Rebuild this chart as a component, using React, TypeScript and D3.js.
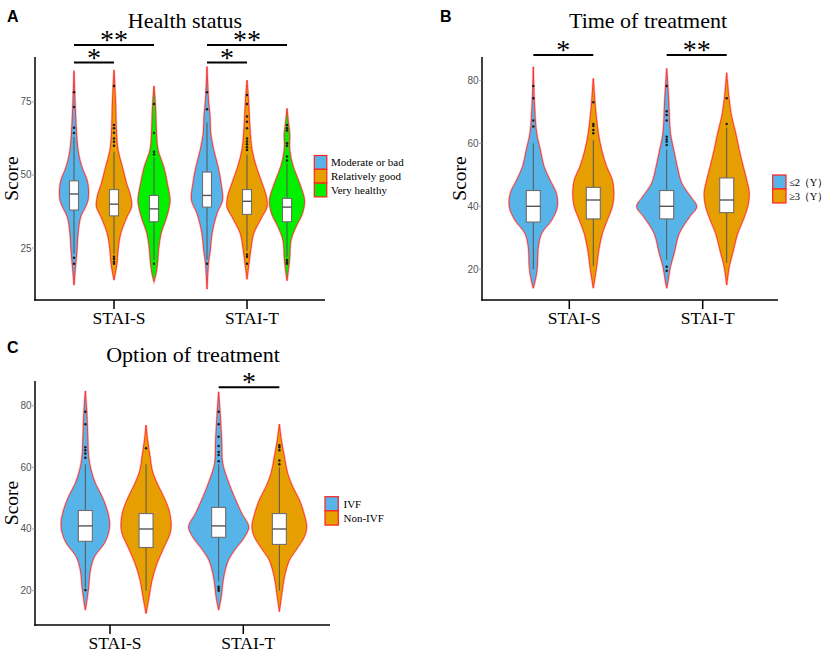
import React from "react";
import * as d3 from "d3";

type Pt = [number, number];

// ---------- DATA ----------
const categories = ["STAI-S", "STAI-T"];

// Panel A – Health status
const healthGroups = ["Moderate or bad", "Relatively good", "Very healthy"];
const healthS_mod: Pt[] = [[85.7,0],[75.7,1],[64.4,2.5],[58.6,4],[55,6],[51.7,9],[48.3,13],[44.9,14.5],[41.4,14],[39.1,11.5],[35.7,6.7],[30,4],[24.3,3],[18.6,1.5],[12.3,0]];
const healthS_good: Pt[] = [[86,0],[75.7,1.5],[64.3,2.5],[58.6,4],[52.8,8.3],[47.2,12.5],[42.6,16.7],[39.1,17.5],[35.7,13],[30,6.7],[24.3,4],[19.8,3],[14,0]];
const healthS_very: Pt[] = [[80.5,0],[73.4,1.5],[64.3,2.5],[58.6,4],[52.8,9.7],[47.2,13.3],[41.4,16],[38,14.5],[34.6,11.7],[30,7],[24.3,4.5],[19.8,3.5],[16.3,2],[13.5,0]];
const healthT_mod: Pt[] = [[87.1,0],[75.7,1.5],[70,3],[64.3,3.7],[58.6,6.7],[52.8,11],[47.2,14],[41.4,15.5],[36.9,10],[30,5],[24.3,3.3],[19.8,1.5],[10.9,0]];
const healthT_good: Pt[] = [[82.5,0],[75.7,1.5],[64.3,3.3],[58.6,5],[52.8,9.3],[47.2,15],[42.6,19.3],[39.1,20],[35.7,15],[30,6.7],[24.3,3.7],[19.8,2],[14.3,0]];
const healthT_very: Pt[] = [[72.8,0],[67.7,1.5],[64.3,2.7],[58.6,2.7],[52.8,6.3],[47.2,12.5],[41.4,17.5],[36.9,15.5],[32.3,9],[27.7,4],[20.9,2.5],[13.8,0]];
// [whiskerLow, q1, median, q3, whiskerHigh]
const healthBoxS = [[23,38,43.5,48,63],[23,36,40,45,58],[21,34,38.4,43,56]];
const healthBoxT = [[21,39,43,51,68],[24,36.5,41,45,57],[22,34,39,42,54]];
const healthOutS = [[78.3,73.3,66.2,64.4,21.7,19.6],[80.5,67.1,66,64.5,62.5,61.4,60,22,21.2,20.3,19.6],[74.3,64.4,58,57,19.6]];
const healthOutT = [[78.3,72.5,19.6],[77.4,74.3,70,68.2,66,62.5,61.5,60.5,59.5,58.6,22.8,22,19.6],[67.1,66,65.2,60.9,60,56.3,55,20.9,20.1,19.6]];
const healthSig = [{ cat: 0, from: 0, to: 1, label: "*", y: 88.5 },{ cat: 0, from: 0, to: 2, label: "**", y: 94.5 },{ cat: 1, from: 0, to: 1, label: "*", y: 88.5 },{ cat: 1, from: 0, to: 2, label: "**", y: 94.5 }];
const healthTicks = [25, 50, 75];

// Panel B – Time of treatment
const timeGroups = ["≤2（Y）", "≥3（Y）"];
const timeS_le2: Pt[] = [[84.3,0],[73.7,1],[63.2,3.3],[57.9,7],[52.6,10.7],[48.3,16.7],[44.1,23],[39.9,24],[35.7,18.5],[31.4,8.3],[27.2,5],[20.8,4],[17.7,2.7],[14,0]];
const timeS_ge3: Pt[] = [[80.6,0],[73.7,1.5],[68.4,3],[63.2,5],[57.9,8.3],[52.6,13.3],[48.3,19],[44.1,20.5],[39.9,19],[35.7,14],[31.4,9],[25.2,5],[20.8,3.3],[14,0]];
const timeT_le2: Pt[] = [[83.8,0],[73.7,2],[63.2,3.7],[57.9,7],[52.6,10.5],[47.3,15],[43,24],[39.9,30],[36.7,23],[31.4,12.5],[25.2,7.5],[20.8,3.7],[15.6,1],[14,0]];
const timeT_ge3: Pt[] = [[82.4,0],[73.7,2.5],[68.4,5],[63.2,9],[57.9,12.5],[52.6,16.5],[48.3,20],[44.1,22.5],[39.9,21],[35.7,16.5],[31.4,11],[25.2,6],[20.8,2.5],[15,0]];
const timeBoxS = [[20,35,40,45,60],[21,36,42,46,61]];
const timeBoxT = [[23,36,40,45,58],[22,38,42,49,65]];
const timeOutS = [[78.2,74.3,67.2,65.3],[73,66.1,65.5,64.2,63.2]];
const timeOutT = [[78.2,70.2,69,67.2,62.1,61.2,60.5,59.5,20.8,19.5],[74.3,66.1]];
const timeSig = [{ cat: 0, from: 0, to: 1, label: "*", y: 88 },{ cat: 1, from: 0, to: 1, label: "**", y: 88 }];
const timeTicks = [20, 40, 60, 80];

// Panel C – Option of treatment
const optionGroups = ["IVF", "Non-IVF"];
const optionS_ivf: Pt[] = [[84.8,0],[77.5,1.5],[68.9,2.5],[63.4,3.3],[59.1,5.7],[54.8,10],[50.5,16.7],[46.2,21.7],[41.8,24.3],[38.6,23],[35.4,19],[31,9],[26.7,5],[21.3,3.3],[18,2],[13.7,0]];
const optionS_non: Pt[] = [[73.7,0],[68.9,1.5],[63.4,4],[59.1,6],[54.8,11],[50.5,17.5],[46.2,22.8],[41.8,25],[38.6,24],[34.2,18],[28.9,11],[23.5,6],[18,3],[12.6,0]];
const optionT_ivf: Pt[] = [[84.5,0],[77.5,1.5],[68.9,3],[61.3,4],[55.9,9],[50.5,15.5],[45.1,23],[40.7,30],[37.5,26],[33.2,16],[29.9,9.7],[24.4,5],[18,2.5],[13.7,0]];
const optionT_non: Pt[] = [[74,0],[68.9,2],[63.4,5],[58,8.3],[53.7,13.3],[49.4,20],[45.1,24.5],[40.7,27.3],[37.5,25],[33.2,16.7],[29.9,10],[24.4,5],[19.1,2.5],[13.2,0]];
const optionBoxS = [[21,36,41,46,61],[20,34,40,45,61]];
const optionBoxT = [[23,37.3,41,47,61],[20,35,40,45,60]];
const optionOutS = [[78,74,66.5,65.5,64.5,63.1,20.2],[66.2]];
const optionOutT = [[78,74,69.9,66.9,65,64,62,21.3,20.6,20],[67.2,66.5,65.5,62.2,61]];
const optionSig = [{ cat: 1, from: 0, to: 1, label: "*", y: 86 }];
const optionTicks = [20, 40, 60, 80];

// ---------- STYLE ----------
const SERIF = "'Liberation Serif', 'Times New Roman', serif";
const SANS = "'Liberation Sans', Arial, sans-serif";
const BLUE = "#56B4E9";
const ORANGE = "#E69F00";
const GREEN = "#00F000";
const OUTLINE = "#FF2020";

interface PanelCfg {
  letter: string; title: string; titleX: number; titleY: number;
  letterX: number; letterY: number;
  left: number; right: number; top: number; bottom: number;
  yDomain: [number, number]; tick0: number; tick1: number;
  dodge: number; shift: number; boxW: number;
  scoreX: number;
  groups: string[]; colors: string[];
  dens: Pt[][][]; boxes: number[][][]; outs: number[][][];
  sig: { cat: number; from: number; to: number; label: string; y: number }[];
  yTicks: number[];
  legX: number; legY: number; legW: number; legH: number; legTextX: number; legFont: number; legSpacing: number;
}

const panels: PanelCfg[] = [
  {
    letter: "A", title: "Health status", titleX: 185, titleY: 27.5, letterX: 7, letterY: 22,
    left: 35, right: 325, top: 57, bottom: 300, yDomain: [7.2, 90.4], tick0: 114, tick1: 247,
    dodge: 40, shift: 0, boxW: 9, scoreX: 18,
    groups: healthGroups, colors: [BLUE, ORANGE, GREEN],
    dens: [[healthS_mod, healthS_good, healthS_very], [healthT_mod, healthT_good, healthT_very]],
    boxes: [healthBoxS, healthBoxT], outs: [healthOutS, healthOutT], sig: healthSig, yTicks: healthTicks,
    legX: 314.3, legY: 155.5, legW: 12.5, legH: 13.8, legTextX: 331, legFont: 11, legSpacing: 0,
  },
  {
    letter: "B", title: "Time of treatment", titleX: 648, titleY: 27.5, letterX: 440, letterY: 21.5,
    left: 482, right: 778, top: 57, bottom: 300, yDomain: [10.25, 87.4], tick0: 569.3, tick1: 702.7,
    dodge: 60, shift: -6, boxW: 14, scoreX: 466,
    groups: timeGroups, colors: [BLUE, ORANGE],
    dens: [[timeS_le2, timeS_ge3], [timeT_le2, timeT_ge3]],
    boxes: [timeBoxS, timeBoxT], outs: [timeOutS, timeOutT], sig: timeSig, yTicks: timeTicks,
    legX: 772.7, legY: 175, legW: 13.3, legH: 14, legTextX: 789.5, legFont: 10.5, legSpacing: -0.6,
  },
  {
    letter: "C", title: "Option of treatment", titleX: 193, titleY: 361.5, letterX: 7, letterY: 352.5,
    left: 35, right: 330, top: 381, bottom: 625, yDomain: [8.86, 88.0], tick0: 110, tick1: 243.3,
    dodge: 60.7, shift: 5.7, boxW: 14, scoreX: 18,
    groups: optionGroups, colors: [BLUE, ORANGE],
    dens: [[optionS_ivf, optionS_non], [optionT_ivf, optionT_non]],
    boxes: [optionBoxS, optionBoxT], outs: [optionOutS, optionOutT], sig: optionSig, yTicks: optionTicks,
    legX: 325, legY: 496.7, legW: 13.3, legH: 14.2, legTextX: 343.5, legFont: 11, legSpacing: 0,
  },
];

function Panel({ p }: { p: PanelCfg }) {
  const y = d3.scaleLinear().domain(p.yDomain).range([p.bottom, p.top]);
  const x = d3.scaleLinear().domain([0, 1]).range([p.tick0, p.tick1]);
  const w = d3.scaleLinear().domain([0, 30]).range([0, 30]);
  const n = p.groups.length;
  const cx = (cat: number, g: number) => x(cat) + p.shift + (g - (n - 1) / 2) * p.dodge;
  const scoreY = (p.top + p.bottom) / 2;

  const violinPath = (c: number, d: Pt[]) =>
    d3.area<Pt>()
      .y((v) => y(v[0]))
      .x0((v) => c - w(v[1]))
      .x1((v) => c + w(v[1]))
      .curve(d3.curveCatmullRom.alpha(0.5))(d) || "";

  return (
    <g>
      <text x={p.letterX} y={p.letterY} fontFamily={SANS} fontWeight="bold" fontSize={16}>{p.letter}</text>
      <text x={p.titleX} y={p.titleY} fontFamily={SERIF} fontSize={22} textAnchor="middle">{p.title}</text>
      <text transform={`translate(${p.scoreX},${scoreY}) rotate(-90)`} fontFamily={SERIF} fontSize={19.5} textAnchor="middle">Score</text>

      {/* violins */}
      {p.dens.map((row, ci) => row.map((d, gi) => {
        const c = cx(ci, gi);
        const path = violinPath(c, d);
        return (
          <g key={`v${ci}${gi}`}>
            <path d={path} fill="none" stroke="#FF8080" strokeWidth={2.2} strokeOpacity={0.55} />
            <path d={path} fill={p.colors[gi]} stroke={OUTLINE} strokeWidth={0.8} />
          </g>
        );
      }))}

      {/* boxplots */}
      {p.boxes.map((row, ci) => row.map((b, gi) => {
        const c = cx(ci, gi);
        return (
          <g key={`b${ci}${gi}`}>
            <line x1={c} x2={c} y1={y(b[0])} y2={y(b[4])} stroke="#555" strokeWidth={1} />
            <rect x={c - p.boxW / 2} width={p.boxW} y={y(b[3])} height={y(b[1]) - y(b[3])} fill="#fff" stroke="#6e6e6e" strokeWidth={1.1} />
            <line x1={c - p.boxW / 2} x2={c + p.boxW / 2} y1={y(b[2])} y2={y(b[2])} stroke="#555" strokeWidth={1.4} />
          </g>
        );
      }))}

      {/* outliers */}
      {p.outs.map((row, ci) => row.map((vals, gi) => vals.map((v, k) => (
        <circle key={`o${ci}${gi}${k}`} cx={cx(ci, gi)} cy={y(v)} r={1.25} fill="#1a1a1a" />
      ))))}

      {/* axes */}
      <line x1={p.left} x2={p.left} y1={p.top} y2={p.bottom + 0.7} stroke="#000" strokeWidth={1.5} />
      <line x1={p.left - 0.7} x2={p.right} y1={p.bottom} y2={p.bottom} stroke="#000" strokeWidth={1.5} />
      {p.yTicks.map((t) => (
        <g key={`yt${t}`}>
          <line x1={p.left - 3} x2={p.left} y1={y(t)} y2={y(t)} stroke="#888" strokeWidth={0.8} />
          <text x={p.left - 3.5} y={y(t)} dy="0.35em" textAnchor="end" fontFamily={SANS} fontSize={10} fill="#555">{t}</text>
        </g>
      ))}
      {categories.map((c, i) => (
        <g key={`xt${c}`}>
          <line x1={x(i)} x2={x(i)} y1={p.bottom} y2={p.bottom + 9} stroke="#000" strokeWidth={1.5} />
          <text x={x(i) + 5} y={p.bottom + 24} textAnchor="middle" fontFamily={SERIF} fontSize={17.5}>{c}</text>
        </g>
      ))}

      {/* significance */}
      {p.sig.map((s, i) => {
        const x1 = cx(s.cat, s.from);
        const x2 = cx(s.cat, s.to);
        return (
          <g key={`s${i}`}>
            <line x1={x1} x2={x2} y1={y(s.y)} y2={y(s.y)} stroke="#000" strokeWidth={2} />
            <text x={(x1 + x2) / 2} y={y(s.y) + 4} textAnchor="middle" fontFamily={SERIF} fontSize={28}>{s.label}</text>
          </g>
        );
      })}

      {/* legend */}
      {p.groups.map((g, i) => (
        <g key={`l${i}`}>
          <rect x={p.legX} y={p.legY + i * p.legH} width={p.legW} height={p.legH} fill={p.colors[i]} stroke={OUTLINE} strokeWidth={1.2} />
          <text x={p.legTextX} y={p.legY + i * p.legH + p.legH / 2} dy="0.35em" fontFamily={SERIF} fontSize={p.legFont} letterSpacing={p.legSpacing}>{g}</text>
        </g>
      ))}
    </g>
  );
}

export default function App() {
  return (
    <svg width={829} height={652} style={{ position: "absolute", left: 0, top: 0, background: "#fff" }}>
      <rect width={829} height={652} fill="#fff" />
      {panels.map((p) => <Panel key={p.letter} p={p} />)}
    </svg>
  );
}
